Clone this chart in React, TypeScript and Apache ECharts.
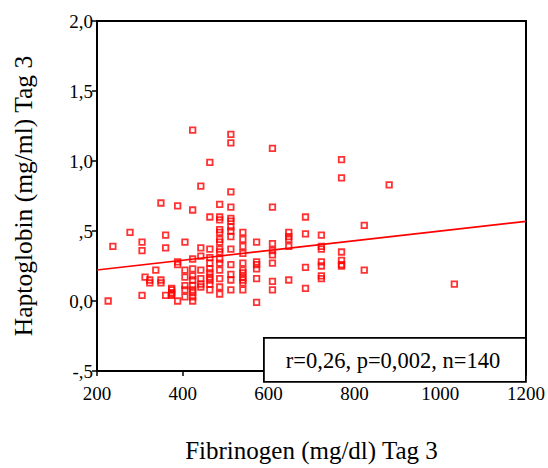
import React, { useEffect, useRef } from "react";
import * as echarts from "echarts";

// Fibrinogen (mg/dl) Tag 3 values
const fibrinogen: number[] = [
  226, 237, 277, 305, 305, 305, 312, 323, 323, 337,
  349, 349, 349, 360, 360, 360, 374, 374, 374, 374, 374,
  388, 388, 388, 388,
  405, 405, 405, 405, 405, 405,
  423, 423, 423, 423, 423, 423, 423, 423, 423, 423, 423,
  442, 442, 442, 442, 442, 442, 442,
  463, 463, 463, 463, 463, 463, 463, 463, 463, 463, 463,
  486, 486, 486, 486, 486, 486, 486, 486, 486, 486, 486, 486, 486, 486, 486,
  512, 512, 512, 512, 512, 512, 512, 512, 512, 512, 512, 512, 512, 512,
  540, 540, 540, 540, 540, 540, 540, 540, 540, 540, 540,
  572, 572, 572, 572, 572, 572,
  609, 609, 609, 609, 609, 609, 609, 609,
  647, 647, 647, 647, 647,
  686, 686, 686, 686,
  723, 723, 723, 723, 723, 723, 723,
  770, 770, 770, 770, 770, 770,
  823, 823, 881, 1033,
];

// Haptoglobin (mg/ml) Tag 3 values
const haptoglobin: number[] = [
  0.0, 0.39, 0.49, 0.42, 0.36, 0.04, 0.17, 0.15, 0.13, 0.22,
  0.7, 0.15, 0.13, 0.47, 0.38, 0.04, 0.09, 0.08, 0.06, 0.05, 0.04,
  0.68, 0.28, 0.26, 0.0,
  0.42, 0.22, 0.17, 0.11, 0.08, 0.03,
  1.22, 0.65, 0.3, 0.23, 0.18, 0.15, 0.11, 0.08, 0.06, 0.03, 0.0,
  0.82, 0.38, 0.32, 0.22, 0.16, 0.12, 0.1,
  0.99, 0.6, 0.37, 0.31, 0.27, 0.23, 0.2, 0.17, 0.15, 0.12, 0.08,
  0.69, 0.6, 0.58, 0.51, 0.49, 0.44, 0.42, 0.37, 0.35, 0.3, 0.27, 0.22, 0.16, 0.1, 0.05,
  1.19, 1.13, 0.78, 0.67, 0.59, 0.57, 0.53, 0.5, 0.46, 0.37, 0.26, 0.19, 0.15, 0.08,
  0.49, 0.44, 0.39, 0.34, 0.27, 0.22, 0.2, 0.17, 0.15, 0.13, 0.08,
  0.42, 0.28, 0.26, 0.23, 0.16, -0.01,
  1.09, 0.67, 0.41, 0.36, 0.33, 0.27, 0.14, 0.08,
  0.49, 0.46, 0.44, 0.39, 0.15,
  0.6, 0.48, 0.24, 0.09,
  0.47, 0.39, 0.37, 0.28, 0.25, 0.18, 0.16,
  1.01, 0.88, 0.35, 0.29, 0.26, 0.25,
  0.54, 0.22, 0.83, 0.12,
];

// Fitted regression line end points (x, y)
const fitX: number[] = [200, 1200];
const fitY: number[] = [0.222, 0.569];

const xTicks = { min: 200, max: 1200, interval: 200 };
const yTicks = { min: -0.5, max: 2.0, interval: 0.5 };

const annotation = "r=0,26, p=0,002, n=140";
const xTitle = "Fibrinogen (mg/dl) Tag 3";
const yTitle = "Haptoglobin (mg/ml) Tag 3";

const FONT = "Liberation Serif";
const RED = "#ff0000";

function fmtY(v: number): string {
  const s = v.toFixed(1).replace(".", ",");
  if (v !== 0 && Math.abs(v) < 1) return s.replace("0,", ",");
  return s;
}

function fmtX(v: number): string {
  return String(Math.round(v));
}

export default function App() {
  const ref = useRef<HTMLDivElement>(null);
  useEffect(() => {
    if (!ref.current) return;
    const chart = echarts.init(ref.current, undefined, { renderer: "svg" });
    const points = fibrinogen.map((x, i) => [x, haptoglobin[i]]);
    const fit = fitX.map((x, i) => [x, fitY[i]]);
    const labelStyle = {
      fontFamily: FONT,
      fontSize: 19,
      fontWeight: "normal",
      fontStyle: "normal",
      color: "#000",
    };
    chart.setOption({
      animation: false,
      backgroundColor: "#fff",
      textStyle: { fontFamily: FONT },
      grid: {
        left: 97,
        top: 21,
        width: 430,
        height: 360,
        show: true,
        borderColor: "#000",
        borderWidth: 2,
        backgroundColor: "transparent",
      },
      xAxis: {
        type: "value",
        min: xTicks.min,
        max: xTicks.max,
        interval: xTicks.interval,
        name: xTitle,
        nameLocation: "middle",
        nameGap: 67,
        nameTextStyle: { fontFamily: FONT, fontSize: 25, color: "#000" },
        axisLine: { show: true, onZero: false, lineStyle: { color: "#000", width: 2 } },
        axisTick: { show: true, inside: false, length: 5, lineStyle: { color: "#000", width: 1.5 } },
        axisLabel: { ...labelStyle, margin: 13, formatter: fmtX },
        splitLine: { show: false },
      },
      yAxis: {
        type: "value",
        min: yTicks.min,
        max: yTicks.max,
        interval: yTicks.interval,
        name: yTitle,
        nameLocation: "middle",
        nameGap: 61,
        nameRotate: 90,
        nameTextStyle: { fontFamily: FONT, fontSize: 25.5, color: "#000" },
        axisLine: { show: true, onZero: false, lineStyle: { color: "#000", width: 2 } },
        axisTick: { show: true, inside: false, length: 5, lineStyle: { color: "#000", width: 1.5 } },
        axisLabel: { ...labelStyle, margin: 4, formatter: fmtY },
        splitLine: { show: false },
      },
      series: [
        {
          type: "scatter",
          data: points,
          symbol: "rect",
          symbolSize: 5.5,
          itemStyle: { color: "rgba(0,0,0,0)", borderColor: RED, borderWidth: 1.8 },
          z: 3,
        },
        {
          type: "line",
          data: fit,
          symbol: "none",
          lineStyle: { color: RED, width: 1.6 },
          z: 2,
        },
      ],
      graphic: [
        {
          type: "rect",
          left: 263,
          top: 337,
          shape: { width: 262, height: 44 },
          style: { fill: "#fff", stroke: "#000", lineWidth: 1.8 },
          z: 10,
        },
        {
          type: "text",
          x: 393,
          y: 360,
          style: {
            text: annotation,
            fontFamily: FONT,
            fontSize: 22.5,
            fill: "#000",
            align: "center",
            verticalAlign: "middle",
          },
          z: 11,
        },
      ],
    });
    return () => chart.dispose();
  }, []);
  return <div ref={ref} style={{ width: 548, height: 468, position: "absolute", left: 0, top: 0 }} />;
}
